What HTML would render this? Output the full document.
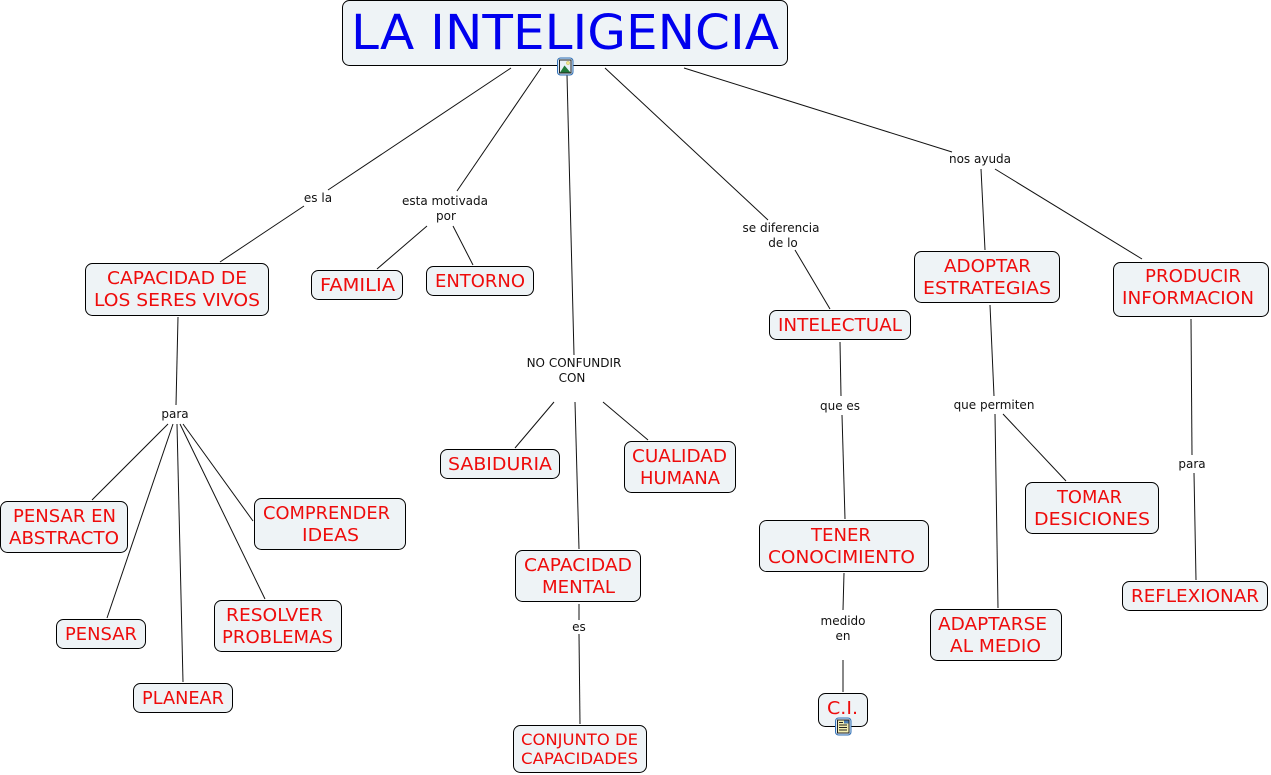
<!DOCTYPE html>
<html><head><meta charset="utf-8"><style>
html,body{margin:0;padding:0;background:#fff;width:1271px;height:775px;overflow:hidden}
svg{display:block}
.n{fill:#eef3f6;stroke:#000;stroke-width:1}
.t{font-family:"DejaVu Sans",sans-serif;font-size:18px;fill:#ee0c0c}
.l{font-family:"DejaVu Sans",sans-serif;font-size:12px;fill:#111;text-anchor:middle}
line{stroke:#111;stroke-width:1}
</style></head><body>
<svg width="1271" height="775" viewBox="0 0 1271 775" xmlns="http://www.w3.org/2000/svg">
<line x1="511" y1="68" x2="328" y2="190"/><line x1="304" y1="206" x2="220" y2="262"/>
<line x1="541" y1="68" x2="457" y2="191"/>
<line x1="427" y1="226" x2="377" y2="269"/><line x1="453" y1="226" x2="473" y2="265"/>
<line x1="567" y1="75" x2="574" y2="355"/>
<line x1="605" y1="68" x2="768" y2="220"/><line x1="795" y1="250" x2="830" y2="309"/>
<line x1="684" y1="68" x2="952" y2="152"/>
<line x1="981" y1="169" x2="985" y2="250"/><line x1="995" y1="169" x2="1142" y2="259"/>
<line x1="178" y1="317" x2="176" y2="405"/>
<line x1="168" y1="424" x2="92" y2="500"/><line x1="173" y1="424" x2="107" y2="618"/>
<line x1="177" y1="424" x2="183" y2="682"/><line x1="180" y1="424" x2="265" y2="599"/><line x1="183" y1="424" x2="253" y2="521"/>
<line x1="554" y1="402" x2="515" y2="448"/><line x1="575" y1="402" x2="579" y2="549"/><line x1="603" y1="402" x2="648" y2="440"/>
<line x1="579" y1="604" x2="579" y2="620"/><line x1="579" y1="634" x2="580" y2="724"/>
<line x1="840" y1="342" x2="841" y2="396"/><line x1="842" y1="415" x2="845" y2="519"/>
<line x1="844" y1="573" x2="843" y2="610"/><line x1="843" y1="660" x2="843" y2="692"/>
<line x1="990" y1="305" x2="994" y2="396"/><line x1="995" y1="414" x2="998" y2="608"/><line x1="1003" y1="414" x2="1066" y2="481"/>
<line x1="1191" y1="319" x2="1192" y2="455"/><line x1="1194" y1="473" x2="1196" y2="580"/>

<rect class="n" x="342.5" y="0.5" width="445" height="65" rx="7"/>
<text x="351" y="49" font-family="DejaVu Sans, sans-serif" font-size="48" fill="#0000ee" textLength="428" lengthAdjust="spacingAndGlyphs">LA INTELIGENCIA</text>

<rect class="n" x="85.5" y="263.5" width="183" height="52" rx="7"/>
<text class="t" x="107" y="284" textLength="140" lengthAdjust="spacingAndGlyphs">CAPACIDAD DE</text>
<text class="t" x="94" y="306" textLength="166" lengthAdjust="spacingAndGlyphs">LOS SERES VIVOS</text>
<rect class="n" x="311.5" y="270.5" width="91" height="29" rx="7"/>
<text class="t" x="320" y="291" textLength="75" lengthAdjust="spacingAndGlyphs">FAMILIA</text>
<rect class="n" x="426.5" y="266.5" width="107" height="29" rx="7"/>
<text class="t" x="435" y="287" textLength="90" lengthAdjust="spacingAndGlyphs">ENTORNO</text>
<rect class="n" x="769.5" y="310.5" width="141" height="29" rx="7"/>
<text class="t" x="778" y="331" textLength="124" lengthAdjust="spacingAndGlyphs">INTELECTUAL</text>
<rect class="n" x="914.5" y="251.5" width="145" height="51" rx="7"/>
<text class="t" x="944" y="272" textLength="87" lengthAdjust="spacingAndGlyphs">ADOPTAR</text>
<text class="t" x="923" y="294" textLength="128" lengthAdjust="spacingAndGlyphs">ESTRATEGIAS</text>
<rect class="n" x="1113.5" y="262.5" width="155" height="54" rx="7"/>
<text class="t" x="1145" y="282" textLength="96" lengthAdjust="spacingAndGlyphs">PRODUCIR</text>
<text class="t" x="1122" y="304" textLength="132" lengthAdjust="spacingAndGlyphs">INFORMACION</text>
<rect class="n" x="440.5" y="449.5" width="119" height="29" rx="7"/>
<text class="t" x="448" y="470" textLength="104" lengthAdjust="spacingAndGlyphs">SABIDURIA</text>
<rect class="n" x="624.5" y="441.5" width="111" height="51" rx="7"/>
<text class="t" x="632" y="462" textLength="95" lengthAdjust="spacingAndGlyphs">CUALIDAD</text>
<text class="t" x="640" y="484" textLength="80" lengthAdjust="spacingAndGlyphs">HUMANA</text>
<rect class="n" x="0.5" y="501.5" width="127" height="51" rx="7"/>
<text class="t" x="13" y="522" textLength="103" lengthAdjust="spacingAndGlyphs">PENSAR EN</text>
<text class="t" x="9" y="544" textLength="110" lengthAdjust="spacingAndGlyphs">ABSTRACTO</text>
<rect class="n" x="254.5" y="498.5" width="151" height="51" rx="7"/>
<text class="t" x="263" y="519" textLength="127" lengthAdjust="spacingAndGlyphs">COMPRENDER</text>
<text class="t" x="302" y="541" textLength="57" lengthAdjust="spacingAndGlyphs">IDEAS</text>
<rect class="n" x="56.5" y="619.5" width="89" height="29" rx="7"/>
<text class="t" x="65" y="640" textLength="72" lengthAdjust="spacingAndGlyphs">PENSAR</text>
<rect class="n" x="214.5" y="600.5" width="127" height="51" rx="7"/>
<text class="t" x="226" y="621" textLength="97" lengthAdjust="spacingAndGlyphs">RESOLVER</text>
<text class="t" x="222" y="643" textLength="111" lengthAdjust="spacingAndGlyphs">PROBLEMAS</text>
<rect class="n" x="133.5" y="683.5" width="99" height="29" rx="7"/>
<text class="t" x="142" y="704" textLength="82" lengthAdjust="spacingAndGlyphs">PLANEAR</text>
<rect class="n" x="515.5" y="550.5" width="125" height="51" rx="7"/>
<text class="t" x="524" y="571" textLength="108" lengthAdjust="spacingAndGlyphs">CAPACIDAD</text>
<text class="t" x="542" y="593" textLength="73" lengthAdjust="spacingAndGlyphs">MENTAL</text>
<rect class="n" x="513.5" y="725.5" width="133" height="47" rx="7"/>
<text class="t" x="521" y="745" textLength="117" lengthAdjust="spacingAndGlyphs" style="font-size:16px">CONJUNTO DE</text>
<text class="t" x="521" y="764" textLength="117" lengthAdjust="spacingAndGlyphs" style="font-size:16px">CAPACIDADES</text>
<rect class="n" x="759.5" y="520.5" width="169" height="51" rx="7"/>
<text class="t" x="811" y="541" textLength="60" lengthAdjust="spacingAndGlyphs">TENER</text>
<text class="t" x="768" y="563" textLength="147" lengthAdjust="spacingAndGlyphs">CONOCIMIENTO</text>
<rect class="n" x="818.5" y="693.5" width="49" height="33" rx="7"/>
<text class="t" x="827" y="714" textLength="31" lengthAdjust="spacingAndGlyphs">C.I.</text>
<rect class="n" x="1025.5" y="482.5" width="133" height="51" rx="7"/>
<text class="t" x="1057" y="503" textLength="65" lengthAdjust="spacingAndGlyphs">TOMAR</text>
<text class="t" x="1034" y="525" textLength="116" lengthAdjust="spacingAndGlyphs">DESICIONES</text>
<rect class="n" x="930.5" y="609.5" width="131" height="51" rx="7"/>
<text class="t" x="938" y="630" textLength="109" lengthAdjust="spacingAndGlyphs">ADAPTARSE</text>
<text class="t" x="950" y="652" textLength="91" lengthAdjust="spacingAndGlyphs">AL MEDIO</text>
<rect class="n" x="1122.5" y="581.5" width="145" height="29" rx="7"/>
<text class="t" x="1131" y="602" textLength="128" lengthAdjust="spacingAndGlyphs">REFLEXIONAR</text>

<text class="l" x="318" y="202">es la</text>
<text class="l" x="445" y="205">esta motivada</text>
<text class="l" x="446" y="220">por</text>
<text class="l" x="574" y="367">NO CONFUNDIR</text>
<text class="l" x="572" y="382">CON</text>
<text class="l" x="781" y="232">se diferencia</text>
<text class="l" x="783" y="247">de lo</text>
<text class="l" x="980" y="163">nos ayuda</text>
<text class="l" x="175" y="418">para</text>
<text class="l" x="579" y="631">es</text>
<text class="l" x="840" y="410">que es</text>
<text class="l" x="843" y="625">medido</text>
<text class="l" x="843" y="640">en</text>
<text class="l" x="994" y="409">que permiten</text>
<text class="l" x="1192" y="468">para</text>

<g transform="translate(557,57.5)">
<rect x="0.5" y="0.5" width="15.5" height="17" rx="3" fill="#dbe8f5" stroke="#2f6fb5"/>
<rect x="2.5" y="2.5" width="11.5" height="13" fill="#e8f0f8" stroke="#222"/>
<path d="M3 15 L7.5 8 L13.5 15 Z" fill="#1f7a3a"/><circle cx="11" cy="5.5" r="1.7" fill="#f0e68c" stroke="#b8a850" stroke-width="0.4"/>
</g>
<g transform="translate(835,717.5)">
<rect x="0.5" y="0.5" width="15.5" height="17" rx="3" fill="#dbe8f5" stroke="#2f6fb5"/>
<rect x="2.5" y="2.5" width="11.5" height="13" fill="#f4efb0" stroke="#222"/>
<path d="M4 5h4M4 7.5h8M4 10h8M4 12.5h8" stroke="#222" stroke-width="1" fill="none"/>
<rect x="9" y="3" width="4.5" height="3" fill="#4a7db5"/>
</g>
</svg>
</body></html>
